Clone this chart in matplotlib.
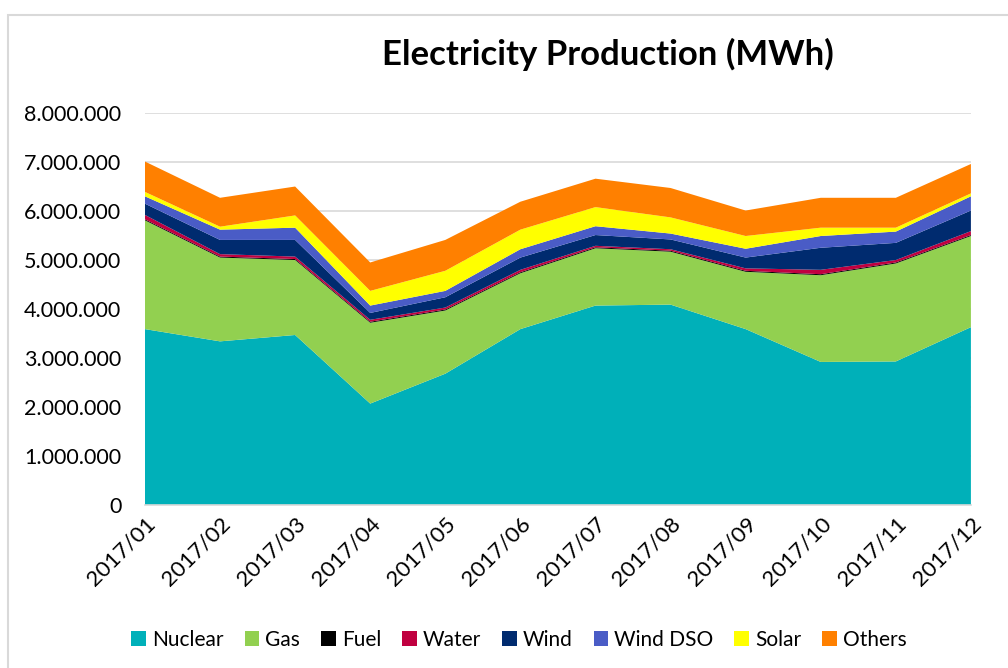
import numpy as np
import matplotlib.pyplot as plt
from matplotlib.ticker import FuncFormatter
from matplotlib.patches import Rectangle

months = ["2017/01", "2017/02", "2017/03", "2017/04", "2017/05", "2017/06",
          "2017/07", "2017/08", "2017/09", "2017/10", "2017/11", "2017/12"]

# MWh values
nuclear = [3590000, 3340000, 3470000, 2070000, 2680000, 3590000,
           4070000, 4090000, 3590000, 2920000, 2930000, 3630000]
gas = [2220000, 1710000, 1530000, 1650000, 1290000, 1140000,
       1170000, 1080000, 1170000, 1770000, 2000000, 1860000]
fuel = [20000, 20000, 20000, 20000, 20000, 20000,
        20000, 20000, 20000, 20000, 20000, 20000]
water = [90000, 50000, 50000, 40000, 40000, 50000,
         30000, 30000, 50000, 90000, 50000, 80000]
wind = [230000, 290000, 340000, 140000, 210000, 250000,
        220000, 200000, 220000, 450000, 350000, 420000]
wind_dso = [150000, 210000, 250000, 150000, 130000, 170000,
            180000, 120000, 180000, 240000, 230000, 290000]
solar = [90000, 60000, 250000, 300000, 410000, 400000,
         390000, 330000, 260000, 170000, 80000, 60000]
others = [620000, 590000, 590000, 580000, 630000, 570000,
          580000, 600000, 520000, 610000, 610000, 600000]

labels = ["Nuclear", "Gas", "Fuel", "Water", "Wind", "Wind DSO", "Solar", "Others"]
colors = ["#00B0B9", "#92D050", "#000000", "#C00040", "#002B6F", "#4A5CC6", "#FFFF00", "#FF8000"]

plt.rcParams["font.family"] = ["Lato", "DejaVu Sans"]

fig = plt.figure(figsize=(10.08, 6.68), dpi=100)
ax = fig.add_axes([0.1438, 0.244, 0.8194, 0.5868])

x = np.arange(len(months))
ax.stackplot(x, nuclear, gas, fuel, water, wind, wind_dso, solar, others,
             labels=labels, colors=colors, linewidth=0, zorder=2)

ax.set_xlim(0, len(months) - 1)
ax.set_ylim(0, 8000000)
ax.set_yticks(np.arange(0, 8000001, 1000000))
ax.yaxis.set_major_formatter(FuncFormatter(lambda v, p: f"{int(v):,}".replace(",", ".")))
ax.grid(axis="y", color="#D9D9D9", linewidth=1.2, zorder=0)
ax.set_xticks(x)
ax.set_xticklabels(months, rotation=45, ha="right", rotation_mode="anchor")
ax.tick_params(axis="y", length=0, labelsize=15.5, pad=17)
ax.tick_params(axis="x", length=0, labelsize=16, pad=6)
for s in ["top", "right", "left"]:
    ax.spines[s].set_visible(False)
ax.spines["bottom"].set_color("#D9D9D9")
ax.spines["bottom"].set_linewidth(1.2)

fig.text(0.603, 0.918, "Electricity Production (MWh)", fontsize=25, fontweight="bold",
         ha="center", va="center")

handles, lbls = ax.get_legend_handles_labels()
fig.legend(handles, lbls, loc="center", bbox_to_anchor=(0.515, 0.042), ncol=8,
           frameon=False, fontsize=15, handlelength=0.7, handleheight=0.7,
           handletextpad=0.3, columnspacing=1.0)

# outer chart border
fig.patches.append(Rectangle((8 / 1008, -0.1), 1.2, (668 - 15) / 668 + 0.1,
                             transform=fig.transFigure, fill=False,
                             edgecolor="#D9D9D9", linewidth=1.5))

fig.savefig("out.png", dpi=100)
